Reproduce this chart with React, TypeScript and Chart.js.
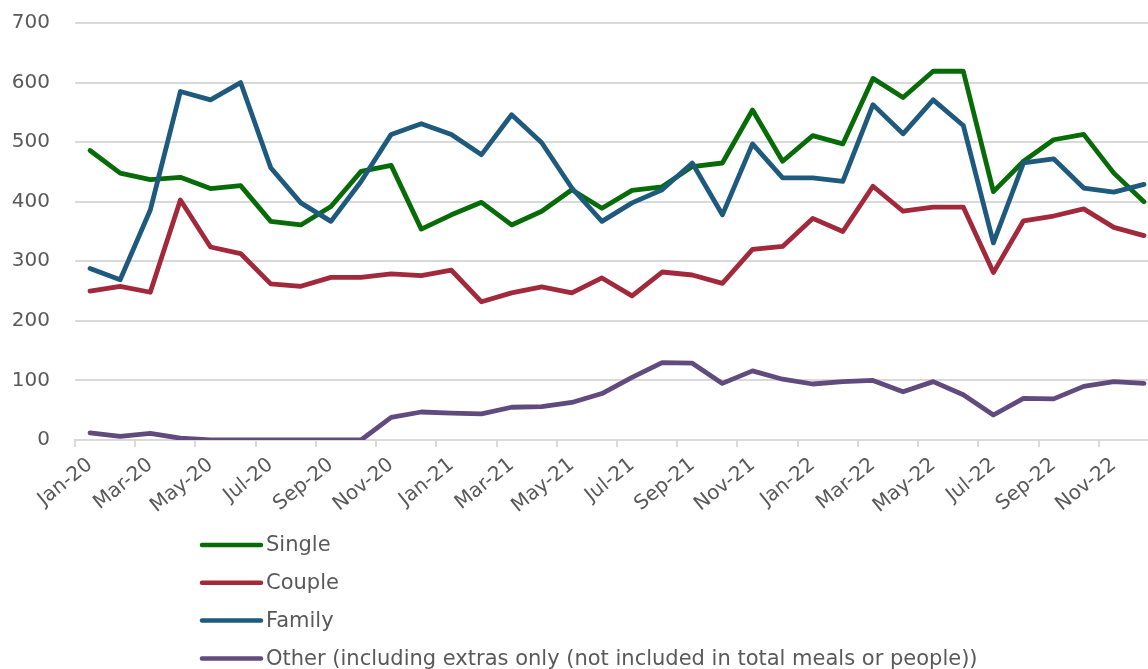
import React, { useEffect, useRef } from "react";
import { Chart, registerables } from "chart.js";

Chart.register(...registerables);

const MONTHS = [
  "Jan-20", "Feb-20", "Mar-20", "Apr-20", "May-20", "Jun-20", "Jul-20", "Aug-20", "Sep-20", "Oct-20", "Nov-20", "Dec-20",
  "Jan-21", "Feb-21", "Mar-21", "Apr-21", "May-21", "Jun-21", "Jul-21", "Aug-21", "Sep-21", "Oct-21", "Nov-21", "Dec-21",
  "Jan-22", "Feb-22", "Mar-22", "Apr-22", "May-22", "Jun-22", "Jul-22", "Aug-22", "Sep-22", "Oct-22", "Nov-22", "Dec-22",
];

const SINGLE = [
  486, 448, 437, 441, 422, 427, 367, 361, 392, 451, 461, 354,
  378, 399, 361, 384, 420, 389, 419, 425, 459, 465, 554, 468,
  511, 497, 607, 575, 619, 619, 417, 468, 504, 513, 448, 400,
];

const COUPLE = [
  250, 258, 248, 403, 324, 313, 262, 258, 273, 273, 279, 276,
  285, 232, 247, 257, 247, 272, 242, 282, 277, 263, 320, 325,
  372, 350, 426, 384, 391, 391, 281, 368, 376, 388, 357, 343,
];

const FAMILY = [
  288, 269, 386, 585, 571, 600, 457, 398, 367, 434, 513, 531,
  513, 479, 546, 499, 423, 367, 398, 420, 465, 378, 497, 440,
  440, 434, 563, 514, 571, 528, 331, 465, 472, 423, 416, 429,
];

const OTHER = [
  12, 6, 11, 3, 0, 0, 0, 0, 0, 0, 38, 47,
  45, 44, 55, 56, 63, 78, 105, 130, 129, 95, 116, 102,
  94, 98, 100, 81, 98, 76, 42, 70, 69, 90, 98, 95,
];

const SERIES_NAMES = [
  "Single",
  "Couple",
  "Family",
  "Other (including extras only (not included in total meals or people))",
];
const SERIES_COLORS = ["#076c07", "#a2293b", "#1e5a7e", "#614a7e"];
const SERIES_VALUES = [SINGLE, COUPLE, FAMILY, OTHER];

const Y_TICKS = [0, 100, 200, 300, 400, 500, 600, 700];

const FONT = "'DejaVu Sans', 'Open Sans', sans-serif";
const TEXT_COLOR = "#595959";
const GRID_COLOR = "#d9d9d9";

const legendPlugin = {
  id: "verticalLegend",
  afterDraw(chart: any) {
    const ctx = chart.ctx;
    ctx.save();
    chart.data.datasets.forEach((ds: any, i: number) => {
      const y = 545 + i * 37.8;
      ctx.strokeStyle = ds.borderColor;
      ctx.lineWidth = 4.5;
      ctx.lineCap = "round";
      ctx.beginPath();
      ctx.moveTo(202, y);
      ctx.lineTo(261, y);
      ctx.stroke();
      ctx.fillStyle = TEXT_COLOR;
      ctx.font = `21px ${FONT}`;
      ctx.textAlign = "left";
      ctx.textBaseline = "middle";
      ctx.fillText(ds.label, 266, y + 1);
    });
    ctx.restore();
  },
};

export default function App() {
  const ref = useRef<HTMLCanvasElement | null>(null);

  useEffect(() => {
    if (!ref.current) return;
    const chart = new Chart(ref.current, {
      type: "line",
      data: {
        labels: MONTHS,
        datasets: SERIES_VALUES.map((vals, i) => ({
          label: SERIES_NAMES[i],
          data: vals,
          borderColor: SERIES_COLORS[i],
          backgroundColor: SERIES_COLORS[i],
          borderWidth: 4.8,
          pointRadius: 0,
          tension: 0,
          borderJoinStyle: "round" as const,
          borderCapStyle: "round" as const,
          order: SERIES_VALUES.length - i,
        })),
      },
      options: {
        animation: false,
        responsive: true,
        maintainAspectRatio: false,
        layout: { padding: { left: 0, top: 23, right: 11, bottom: 129 } },
        plugins: {
          legend: { display: false },
          tooltip: { enabled: false },
        },
        scales: {
          x: {
            type: "category",
            offset: true,
            afterFit: (scale: any) => {
              scale.height = 100;
            },
            grid: {
              offset: true,
              drawOnChartArea: false,
              drawTicks: true,
              tickLength: 7,
              lineWidth: 2,
              color: (c: any) => (c.index % 2 === 0 ? GRID_COLOR : "rgba(0,0,0,0)"),
            },
            border: { display: true, color: GRID_COLOR, width: 2 },
            ticks: {
              autoSkip: false,
              maxRotation: 39,
              minRotation: 39,
              padding: 6,
              color: TEXT_COLOR,
              font: { family: FONT, size: 20 },
              callback: (_v: any, index: number) => (index % 2 === 0 ? MONTHS[index] : ""),
            },
          },
          y: {
            min: Y_TICKS[0],
            max: Y_TICKS[Y_TICKS.length - 1],
            afterFit: (scale: any) => {
              scale.width = 75;
              scale.paddingTop = 0;
              scale.paddingBottom = 0;
            },
            afterBuildTicks: (scale: any) => {
              scale.ticks = Y_TICKS.map((v) => ({ value: v }));
            },
            grid: {
              drawTicks: false,
              color: GRID_COLOR,
              lineWidth: 2,
            },
            border: { display: false },
            ticks: {
              padding: 25,
              color: TEXT_COLOR,
              font: { family: FONT, size: 20 },
            },
          },
        },
      },
      plugins: [legendPlugin],
    });
    return () => chart.destroy();
  }, []);

  return (
    <div
      style={{
        position: "fixed",
        left: 0,
        top: 0,
        width: 1148,
        height: 669,
        overflow: "hidden",
        background: "#ffffff",
      }}
    >
      <div style={{ position: "relative", width: 1170, height: 669 }}>
        <canvas ref={ref} />
      </div>
    </div>
  );
}
